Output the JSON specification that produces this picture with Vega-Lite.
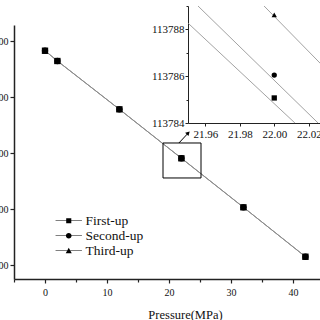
{
  "$schema": "https://vega.github.io/schema/vega-lite/v6.json",
  "autosize": {"type": "none"},
  "width": 306,
  "height": 254,
  "padding": {"left": 14, "top": 25, "right": 0, "bottom": 41},
  "background": "white",
  "config": {
    "view": {"stroke": null},
    "axis": {"grid": false, "labelFont": "Liberation Serif", "titleFont": "Liberation Serif", "domainColor": "#222", "tickColor": "#222", "labelColor": "#111", "titleColor": "#111", "titleFontWeight": "normal", "labelOverlap": false},
    "legend": {"labelFont": "Liberation Serif"}
  },
  "datasets": {
    "main": [
      {"series": "First-up", "pressure": 0, "value": 115827},
      {"series": "First-up", "pressure": 2, "value": 115643},
      {"series": "First-up", "pressure": 12, "value": 114780},
      {"series": "First-up", "pressure": 22, "value": 113905},
      {"series": "First-up", "pressure": 32, "value": 113030},
      {"series": "First-up", "pressure": 42, "value": 112148},
      {"series": "Second-up", "pressure": 0, "value": 115827},
      {"series": "Second-up", "pressure": 2, "value": 115643},
      {"series": "Second-up", "pressure": 12, "value": 114780},
      {"series": "Second-up", "pressure": 22, "value": 113906},
      {"series": "Second-up", "pressure": 32, "value": 113030},
      {"series": "Second-up", "pressure": 42, "value": 112148},
      {"series": "Third-up", "pressure": 0, "value": 115828},
      {"series": "Third-up", "pressure": 2, "value": 115644},
      {"series": "Third-up", "pressure": 12, "value": 114781},
      {"series": "Third-up", "pressure": 22, "value": 113908},
      {"series": "Third-up", "pressure": 32, "value": 113031},
      {"series": "Third-up", "pressure": 42, "value": 112149}
    ],
    "inset_pts": [
      {"series": "First-up", "p": 22.0, "v": 113785.07},
      {"series": "Second-up", "p": 22.0, "v": 113786.05},
      {"series": "Third-up", "p": 22.0, "v": 113788.62}
    ],
    "inset_lines": [
      {"series": "First-up", "p": 21.95, "v": 113788.27},
      {"series": "First-up", "p": 22.012, "v": 113784},
      {"series": "Second-up", "p": 21.9558, "v": 113789},
      {"series": "Second-up", "p": 22.0254, "v": 113784},
      {"series": "Third-up", "p": 21.9941, "v": 113789},
      {"series": "Third-up", "p": 22.03, "v": 113786.3}
    ],
    "box": [{"x1": 19.03, "x2": 25.16, "y1": 113554, "y2": 114179}],
    "arrow": [{"x1": 21.6, "y1": 114179, "x2": 23.1, "y2": 114357}]
  },
  "layer": [
    {
      "layer": [
        {
          "data": {"name": "main"},
          "mark": {"type": "line", "color": "#8a8a8a", "strokeWidth": 0.8},
          "encoding": {
            "x": {
              "field": "pressure", "type": "quantitative",
              "scale": {"domain": [-5, 44.35], "nice": false, "zero": false},
              "axis": {
                "title": "Pressure(MPa)",
                "values": [0, 10, 20, 30, 40], "format": "d",
                "labelOverlap": false, "labelFlush": false,
                "tickSize": 4,
                "labelFont": "Liberation Serif", "labelFontSize": 10, "titleFontSize": 12.5, "domainWidth": 1.5, "tickWidth": 1.2,
                "labelPadding": 4, "titlePadding": 11, "titleX": 171
              }
            },
            "y": {
              "field": "value", "type": "quantitative",
              "scale": {"domain": [111750, 116286], "nice": false, "zero": false},
              "axis": {
                "title": null,
                "values": [112000, 112500, 113000, 113500, 114000, 114500, 115000, 115500, 116000],
                "format": "d",
                "labelExpr": "datum.value % 1000 === 0 ? datum.label : ''",
                "labelOverlap": false,
                "tickSize": {"condition": {"test": "datum.value % 1000 === 0", "value": 4}, "value": 3},
                "labelFont": "Liberation Serif", "labelFontSize": 10, "domainWidth": 1.5, "tickWidth": 1.2, "labelPadding": 2
              }
            },
            "detail": {"field": "series", "type": "nominal"}
          }
        },
        {
          "data": {"name": "main"},
          "mark": {"type": "point", "filled": true, "color": "black", "size": 40, "opacity": 1},
          "encoding": {
            "x": {"field": "pressure", "type": "quantitative"},
            "y": {"field": "value", "type": "quantitative"},
            "shape": {
              "field": "series", "type": "nominal",
              "scale": {"domain": ["First-up", "Second-up", "Third-up"], "range": ["square", "circle", "triangle-up"]},
              "legend": null
            }
          }
        },
        {
          "data": {"name": "box"},
          "mark": {"type": "rect", "fillOpacity": 0, "stroke": "black", "strokeWidth": 1},
          "encoding": {
            "x": {"field": "x1", "type": "quantitative"},
            "x2": {"field": "x2"},
            "y": {"field": "y1", "type": "quantitative"},
            "y2": {"field": "y2"}
          }
        },
        {
          "data": {"name": "arrow"},
          "mark": {"type": "rule", "color": "black", "strokeWidth": 1},
          "encoding": {
            "x": {"field": "x1", "type": "quantitative"},
            "y": {"field": "y1", "type": "quantitative"},
            "x2": {"field": "x2"},
            "y2": {"field": "y2"}
          }
        },
        {
          "data": {"name": "arrow"},
          "mark": {"type": "point", "shape": "triangle-up", "filled": true, "color": "black", "size": 22, "angle": 45, "opacity": 1},
          "encoding": {
            "x": {"field": "x2", "type": "quantitative"},
            "y": {"field": "y2", "type": "quantitative"}
          }
        }
      ]
    },
    {
      "layer": [
        {
          "data": {"name": "inset_lines"},
          "mark": {"type": "line", "color": "#8a8a8a", "strokeWidth": 0.8},
          "encoding": {
            "x": {
              "field": "p", "type": "quantitative",
              "scale": {"domain": [21.95, 22.03], "range": [174, 312], "nice": false, "zero": false},
              "axis": {
                "orient": "bottom", "offset": -156, "title": null,
                "values": [21.96, 21.98, 22.0, 22.02], "format": ".2f", "labelOverlap": false, "labelFlush": false,
                "labelFont": "Liberation Serif", "labelFontSize": 11, "tickSize": 3, "domainWidth": 1, "labelPadding": 2
              }
            },
            "y": {
              "field": "v", "type": "quantitative",
              "scale": {"domain": [113784, 113789], "range": [98, -19], "nice": false, "zero": false},
              "axis": {
                "orient": "left", "offset": -174, "title": null,
                "values": [113784, 113785, 113786, 113787, 113788, 113789], "format": "d",
                "labelExpr": "datum.value % 2 === 0 ? datum.label : ''", "labelOverlap": false,
                "tickSize": {"condition": {"test": "datum.value % 2 === 0", "value": 3}, "value": 2},
                "labelFont": "Liberation Serif", "labelFontSize": 11, "domainWidth": 1, "labelPadding": 1
              }
            },
            "detail": {"field": "series", "type": "nominal"}
          }
        },
        {
          "data": {"name": "inset_pts"},
          "mark": {"type": "point", "filled": true, "color": "black", "size": 28, "opacity": 1},
          "encoding": {
            "x": {"field": "p", "type": "quantitative"},
            "y": {"field": "v", "type": "quantitative"},
            "shape": {
              "field": "series", "type": "nominal",
              "scale": {"domain": ["First-up", "Second-up", "Third-up"], "range": ["square", "circle", "triangle-up"]},
              "legend": null
            }
          }
        }
      ]
    },
    {
      "data": {"name": "inset_pts"},
      "mark": {"type": "point", "filled": true, "fill": "black", "opacity": 0},
      "encoding": {
        "x": {
          "field": "p", "type": "quantitative",
          "scale": {"domain": [-5, 44.35], "nice": false, "zero": false},
          "axis": {
            "orient": "bottom", "title": null, "values": [-5, 5, 15, 25, 35],
            "labels": false, "domain": false, "tickSize": 3, "tickWidth": 1.2
          }
        },
        "shape": {
          "field": "series", "type": "nominal",
          "scale": {
            "domain": ["First-up", "Second-up", "Third-up"],
            "range": [
              "M-4.4,-0.12H-0.85V-0.85H0.85V-0.12H4.4V0.12H0.85V0.85H-0.85V0.12H-4.4Z",
              "M-4.4,-0.12H-0.92V0.12H-4.4Z M0.92,-0.12H4.4V0.12H0.92Z M0.95,0A0.95,0.95,0,1,1,-0.95,0A0.95,0.95,0,1,1,0.95,0Z",
              "M-4.4,-0.12H-0.5V0.12H-4.4Z M0.5,-0.12H4.4V0.12H0.5Z M0,-1L1,0.8L-1,0.8Z"
            ]
          },
          "legend": {
            "orient": "none", "legendX": 48, "legendY": 189, "title": null,
            "symbolSize": 36, "labelFont": "Liberation Serif", "labelFontSize": 13.5, "labelColor": "#111",
            "labelOffset": 10, "rowPadding": 0, "padding": 0,
            "symbolFillColor": "black", "symbolOpacity": 1
          }
        }
      }
    }
  ],
  "resolve": {"scale": {"x": "independent", "y": "independent", "shape": "independent"}}
}
